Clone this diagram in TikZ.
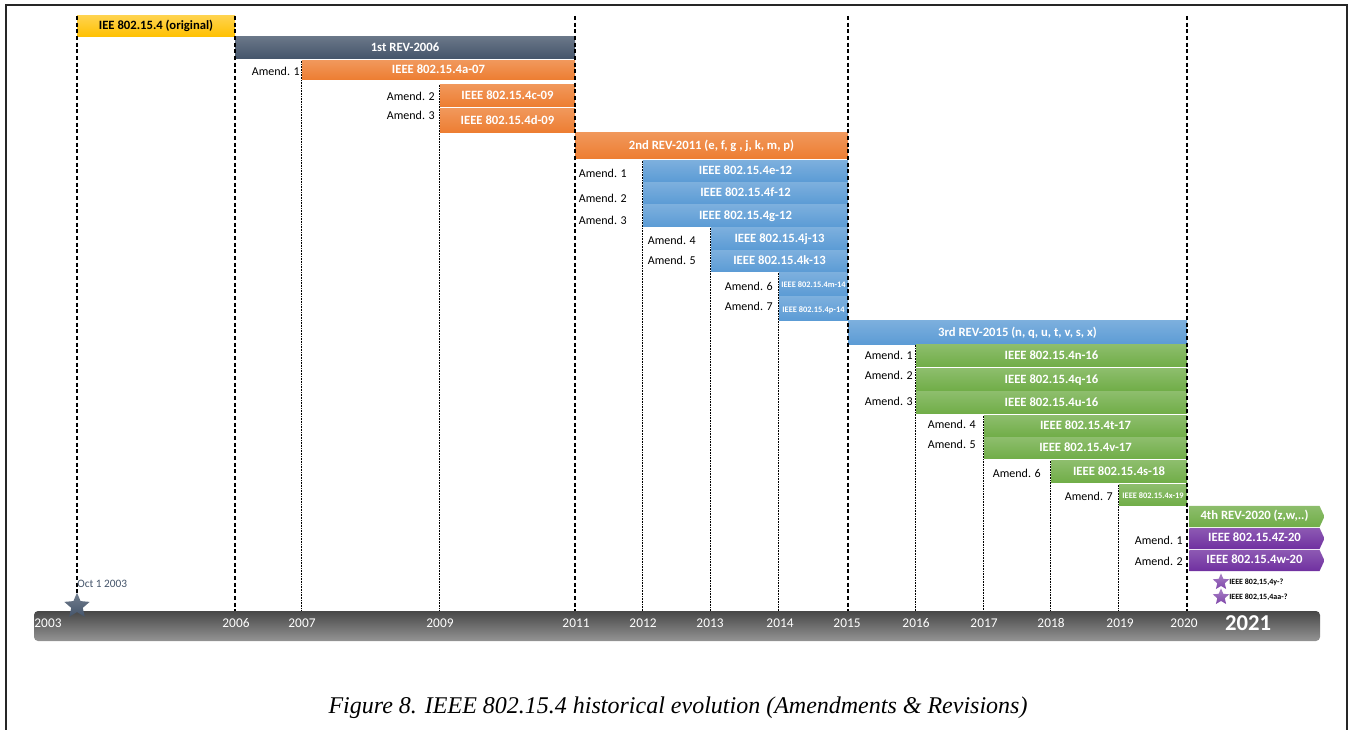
\documentclass[tikz,border=0pt]{standalone}
\usepackage{fontspec}
\setmainfont{Carlito}
\newfontfamily\capfont{Liberation Serif}
\usetikzlibrary{shapes.geometric,shapes.symbols}
\definecolor{ieeeyellow}{HTML}{FFC000}
\definecolor{slate}{HTML}{44546A}
\definecolor{amorange}{HTML}{ED7D31}
\definecolor{amblue}{HTML}{5B9BD5}
\definecolor{amgreen}{HTML}{70AD47}
\definecolor{ampurple}{HTML}{7030A0}
\newcommand\smallbar{\fontsize{6.3}{6.5}\selectfont}

\begin{document}
\begin{tikzpicture}[x=0.75pt,y=-0.75pt,
    bar/.style={rectangle, inner sep=0pt, text=white, text height=0.66em, text depth=0.14em,
      font=\fontsize{9.5}{10}\selectfont\bfseries},
    arrowbar/.style={bar, signal, signal to=east, signal pointer angle=130},
    amlabel/.style={anchor=east, inner sep=0pt, font=\fontsize{9}{10}\selectfont},
    year/.style={inner sep=0pt, text=white, font=\fontsize{10}{12}\selectfont},
    dashline/.style={line width=0.9pt, dash pattern=on 3pt off 2pt},
    dotline/.style={line width=0.6pt, dash pattern=on 0.6pt off 0.6pt}]
\useasboundingbox (0,0) rectangle (1349,730);
\draw[line width=1.5pt, black!85] (6,730) -- (6,5) -- (1347,5) -- (1347,730);

% time axis
\node[rounded corners=3pt, inner sep=0pt, top color=black!72, bottom color=black!42,
  minimum width=964.5pt, minimum height=22.5pt] (timeline) at (677,626) {};
\foreach \yr/\x in {2003/48,2006/236,2007/302,2009/440,2011/576,2012/643,2013/710,
    2014/780,2015/847,2016/916,2017/984,2018/1051,2019/1120,2020/1184}
  \node[year] (y\yr) at (\x,623) {\yr};
\node[year, font=\fontsize{17}{18}\selectfont\bfseries] (y2021) at (1248,623) {2021};

% revisions
\node[bar, text=black, top color=ieeeyellow!70!white, bottom color=ieeeyellow,
  minimum width=118.5pt, minimum height=15.75pt] (orig) at (156,26.5) {IEE 802.15.4 (original)};
\foreach \nm/\xa/\xb/\ya/\yb/\col/\txt in {rev1/235/575/37/59/slate/1st REV-2006,
    rev2/575/848/133/159/amorange/{2nd REV-2011 (e, f, g , j, k, m, p)},
    rev3/848/1187/321/345/amblue/{3rd REV-2015 (n, q, u, t, v, s, x)}}
  \node[bar, top color=\col!80!white, bottom color=\col,
    minimum width=(\xb-\xa)*0.75pt, minimum height=(\yb-\ya)*0.75pt]
    (\nm) at ({(\xa+\xb)/2},{(\ya+\yb)/2}) {\txt};
\node[arrowbar, top color=amgreen!80!white, bottom color=amgreen,
  minimum width=101.25pt, minimum height=15.75pt] (rev4) at (1254.5,516.5) {4th REV-2020 (z,w,..)};

% amendments
\foreach \nm/\xa/\xb/\ya/\yb/\col/\txt/\am/\ax/\ay in {
    a1/302/575/61/80/amorange/IEEE 802.15.4a-07/Amend. 1/300/71,
    a2/440/575/85/107/amorange/IEEE 802.15.4c-09/Amend. 2/435/96,
    a3/440/575/109/133/amorange/IEEE 802.15.4d-09/Amend. 3/435/115,
    b1/643/848/161/182/amblue/IEEE 802.15.4e-12/Amend. 1/627/173,
    b2/643/848/183/204/amblue/IEEE 802.15.4f-12/Amend. 2/627/198,
    b3/643/848/205/227/amblue/IEEE 802.15.4g-12/Amend. 3/627/220,
    b4/711/848/228/250/amblue/IEEE 802.15.4j-13/Amend. 4/696/240,
    b5/711/848/251/272/amblue/IEEE 802.15.4k-13/Amend. 5/696/260,
    b6/779/848/273/296/amblue/{\smallbar IEEE 802.15.4m-14}/Amend. 6/773/286,
    b7/779/848/297/321/amblue/{\smallbar IEEE 802.15.4p-14}/Amend. 7/773/306,
    c1/916/1187/345/367/amgreen/IEEE 802.15.4n-16/Amend. 1/913/355,
    c2/916/1187/369/391/amgreen/IEEE 802.15.4q-16/Amend. 2/913/375,
    c3/916/1187/392/414/amgreen/IEEE 802.15.4u-16/Amend. 3/913/401,
    c4/984/1187/416/437/amgreen/IEEE 802.15.4t-17/Amend. 4/976/424,
    c5/984/1187/438/459/amgreen/IEEE 802.15.4v-17/Amend. 5/976/444,
    c6/1051/1187/461/483/amgreen/IEEE 802.15.4s-18/Amend. 6/1041/473,
    c7/1119/1187/485/506/amgreen/{\smallbar IEEE 802.15.4x-19}/Amend. 7/1113/496} {
  \node[bar, top color=\col!80!white, bottom color=\col,
    minimum width=(\xb-\xa)*0.75pt, minimum height=(\yb-\ya)*0.75pt]
    (\nm) at ({(\xa+\xb)/2},{(\ya+\yb)/2}) {\txt};
  \node[amlabel] (l\nm) at (\ax,\ay) {\am};
}
\foreach \nm/\ya/\txt/\am/\ay in {d1/538.5/IEEE 802.15.4Z-20/Amend. 1/540,
    d2/560.5/IEEE 802.15.4w-20/Amend. 2/561} {
  \node[arrowbar, top color=ampurple!80!white, bottom color=ampurple,
    minimum width=101.25pt, minimum height=15.75pt] (\nm) at (1254.5,\ya) {\txt};
  \node[amlabel] (l\nm) at (1183,\ay) {\am};
}

% year lines
\foreach \x in {77,235,575,848,1187} {
  \coordinate (t\x) at (\x,16);
  \draw[dashline] (t\x) -- (t\x |- timeline.north);
}
\foreach \nm in {a1,a2,b1,b4,b6,c1,c4,c6,c7}
  \draw[dotline] (\nm.north west) -- (\nm.north west |- timeline.north);

% milestones
\node[star, star points=5, star point ratio=2.2, inner sep=0pt, minimum size=20pt,
  top color=slate!75!white, bottom color=slate] (s2003) at (77,606) {};
\node[anchor=west, inner sep=0pt, text=slate, font=\fontsize{8.5}{9}\selectfont] (oct) at (77,584) {Oct 1 2003};
\foreach \nm/\y/\txt in {fy/582/{IEEE 802,15,4y-?}, faa/597/{IEEE 802,15,4aa-?}} {
  \node[star, star points=5, star point ratio=2.2, inner sep=0pt, minimum size=13pt,
    top color=ampurple!60!white, bottom color=ampurple!90!white] (s\nm) at (1221,\y) {};
  \node[anchor=west, inner sep=0pt, font=\fontsize{6}{6}\selectfont\bfseries] (\nm) at (1229,\y) {\txt};
}

\node[font=\capfont\itshape\fontsize{18}{20}\selectfont] (caption) at (678,708)
  {Figure 8. IEEE 802.15.4 historical evolution (Amendments \& Revisions)};
\end{tikzpicture}
\end{document}
